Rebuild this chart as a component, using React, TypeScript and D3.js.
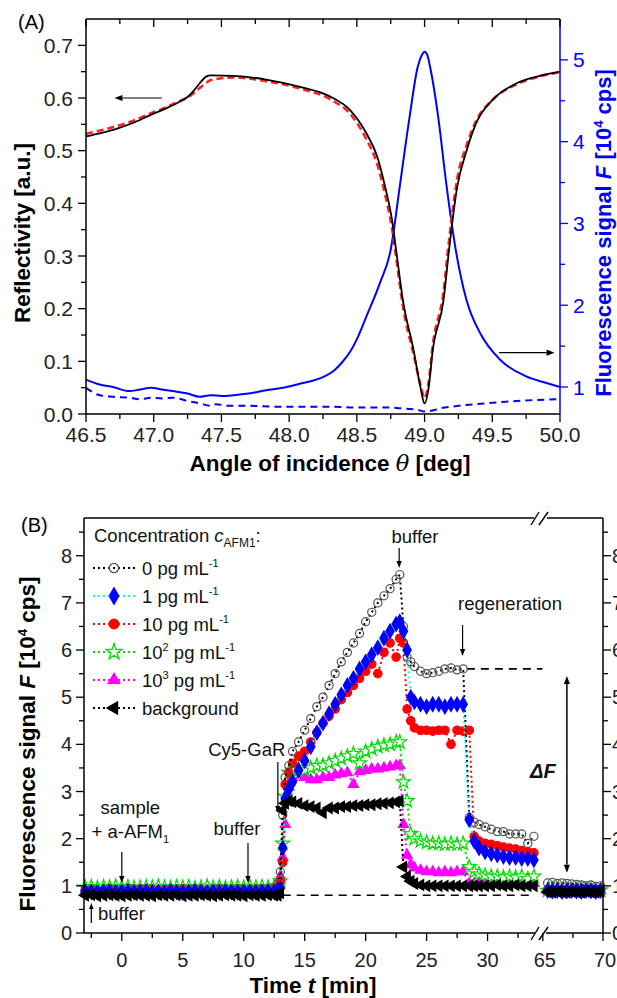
import React from "react";
import * as d3 from "d3";

const FONT = "'Liberation Sans', Arial, Helvetica, sans-serif";
const BLUE = "#0000ff";

// ---------------- Panel A data ----------------
const reflAngle = [46.5, 46.6, 46.73, 46.85, 46.97, 47.08, 47.19, 47.25, 47.29, 47.34, 47.39, 47.42, 47.59, 47.83, 48.08, 48.3, 48.45, 48.57, 48.65, 48.71, 48.76, 48.79, 48.84, 48.92, 48.97, 49.0, 49.03, 49.06, 49.14, 49.18, 49.24, 49.31, 49.38, 49.5, 49.68, 49.85, 50.0];
const reflMeasured = [0.527, 0.533, 0.542, 0.553, 0.567, 0.579, 0.593, 0.602, 0.612, 0.628, 0.641, 0.643, 0.642, 0.635, 0.621, 0.603, 0.577, 0.533, 0.489, 0.43, 0.368, 0.311, 0.216, 0.12, 0.05, 0.02, 0.05, 0.12, 0.216, 0.31, 0.43, 0.5, 0.552, 0.596, 0.628, 0.642, 0.65];
const reflFit = [0.532, 0.538, 0.547, 0.557, 0.57, 0.581, 0.594, 0.601, 0.608, 0.619, 0.629, 0.634, 0.639, 0.632, 0.618, 0.598, 0.57, 0.522, 0.475, 0.415, 0.352, 0.298, 0.205, 0.112, 0.055, 0.03, 0.06, 0.13, 0.232, 0.328, 0.445, 0.51, 0.556, 0.596, 0.626, 0.641, 0.649];

const fluoAngle = [46.5, 46.6, 46.7, 46.82, 46.9, 46.98, 47.06, 47.14, 47.25, 47.34, 47.42, 47.5, 47.59, 47.7, 47.83, 47.95, 48.08, 48.18, 48.26, 48.33, 48.39, 48.45, 48.51, 48.57, 48.67, 48.75, 48.82, 48.89, 48.95, 48.98, 49.0, 49.02, 49.04, 49.1, 49.16, 49.23, 49.31, 49.41, 49.56, 49.75, 49.9, 50.0];
const fluoPeak = [1.09, 1.03, 1.0, 0.95, 0.97, 0.99, 0.97, 0.95, 0.92, 0.88, 0.9, 0.89, 0.9, 0.92, 0.96, 0.99, 1.04, 1.08, 1.13, 1.2, 1.3, 1.43, 1.62, 1.86, 2.27, 2.68, 3.49, 4.31, 4.92, 5.06, 5.1, 5.06, 4.92, 4.31, 3.49, 2.68, 2.06, 1.66, 1.33, 1.13, 1.05, 1.0];

const fluoBgAngle = [46.5, 46.6, 46.7, 46.82, 46.9, 46.98, 47.06, 47.14, 47.25, 47.34, 47.42, 47.46, 47.55, 47.7, 47.9, 48.1, 48.3, 48.5, 48.7, 48.82, 48.95, 49.0, 49.05, 49.12, 49.2, 49.31, 49.45, 49.6, 49.8, 50.0];
const fluoBg = [0.99, 0.9, 0.88, 0.87, 0.85, 0.87, 0.86, 0.87, 0.83, 0.8, 0.77, 0.79, 0.77, 0.77, 0.76, 0.76, 0.76, 0.75, 0.75, 0.74, 0.72, 0.7, 0.71, 0.74, 0.76, 0.78, 0.8, 0.82, 0.84, 0.85];

const angleTicks = [46.5, 47.0, 47.5, 48.0, 48.5, 49.0, 49.5, 50.0];
const reflTicks = [0, 0.1, 0.2, 0.3, 0.4, 0.5, 0.6, 0.7];
const fluoTicksA = [1, 2, 3, 4, 5];

// ---------------- Panel B data ----------------
const timeMain = [-3, -2.5, -2, -1.5, -1, -0.5, 0, 0.5, 1, 1.5, 2, 2.5, 3, 3.5, 4, 4.5, 5, 5.5, 6, 6.5, 7, 7.5, 8, 8.5, 9, 9.5, 10, 10.5, 11, 11.5, 12, 12.5,
  12.8, 13.0, 13.2, 13.4, 13.7,
  14, 14.5, 15, 15.5, 16, 16.5, 17, 17.5, 18, 18.5, 19, 19.5, 20, 20.5, 21, 21.5, 22, 22.5,
  22.8, 23.1, 23.4, 23.7,
  24, 24.5, 25, 25.5, 26, 26.5, 27, 27.5, 28,
  28.5, 28.9,
  29.3, 29.8, 30.3, 30.8, 31.3, 31.8, 32.3, 32.8, 33.3, 33.8];
const timeLate = [65.4, 65.8, 66.2, 66.6, 67.0, 67.4, 67.8, 68.2, 68.6, 69.0, 69.4, 69.8];

const zeroPg = [0.92, 0.93, 0.91, 0.92, 0.94, 0.93, 0.92, 0.95, 0.93, 0.92, 0.94, 0.93, 0.92, 0.93, 0.94, 0.92, 0.93, 0.92, 0.94, 0.93, 0.92, 0.93, 0.95, 0.93, 0.92, 0.94, 0.93, 0.92, 0.93, 0.94, 0.93, 0.95,
  1.05, 1.3, 2.5, 3.3, 3.55,
  3.85, 4.05, 4.3, 4.55, 4.8, 5.0, 5.25, 5.5, 5.75, 5.95, 6.15, 6.35, 6.6, 6.8, 7.0, 7.15, 7.3, 7.5,
  7.6, 6.5, 5.85, 5.75,
  5.65, 5.55, 5.5, 5.52, 5.55, 5.6, 5.62, 5.58, 5.6,
  2.45, 2.35,
  2.3, 2.25, 2.2, 2.15, 2.15, 2.1, 2.1, 2.1, 1.9, 2.05];
const onePg = [0.88, 0.87, 0.86, 0.88, 0.87, 0.86, 0.87, 0.88, 0.86, 0.87, 0.88, 0.86, 0.87, 0.86, 0.88, 0.87, 0.86, 0.87, 0.88, 0.87, 0.86, 0.87, 0.86, 0.88, 0.87, 0.86, 0.87, 0.88, 0.86, 0.87, 0.88, 0.87,
  0.9, 0.95, 1.8, 2.85, 3.05,
  3.2, 3.45, 3.65, 3.95, 4.25, 4.45, 4.65, 4.85, 5.05, 5.25, 5.4, 5.6, 5.75, 5.9, 6.05, 6.25, 6.4, 6.55,
  6.6, 6.4, 6.0, 5.0,
  4.9, 4.85, 4.8, 4.85, 4.85, 4.8, 4.85, 4.85, 4.85,
  2.4, 1.95,
  1.8, 1.72, 1.68, 1.65, 1.62, 1.6, 1.6, 1.58, 1.58, 1.55];
const tenPg = [0.9, 0.92, 0.91, 0.9, 0.93, 0.91, 0.92, 0.9, 0.91, 0.93, 0.9, 0.92, 0.91, 0.9, 0.92, 0.91, 0.93, 0.9, 0.91, 0.92, 0.9, 0.91, 0.93, 0.9, 0.92, 0.91, 0.9, 0.92, 0.91, 0.93, 0.92, 0.94,
  0.95, 1.1, 1.5, 3.15, 3.4,
  3.6, 3.75, 3.85, 4.05, 4.25, 4.45, 4.6, 4.75, 4.95, 5.1, 5.25, 5.4, 5.55, 5.7, 5.5, 5.95, 6.15, 5.85,
  6.25, 6.15, 4.75, 4.5,
  4.35, 4.3, 4.3, 4.28, 4.3, 4.3, 4.0, 4.3, 4.28,
  4.3, 2.05,
  1.95, 1.9, 1.88, 1.85, 1.82, 1.8, 1.78, 1.75, 1.72, 1.7];
const hundredPg = [0.97, 0.98, 0.96, 0.98, 0.97, 0.99, 0.97, 0.98, 0.96, 0.97, 0.98, 0.97, 0.99, 0.97, 0.96, 0.98, 0.97, 0.98, 0.96, 0.97, 0.99, 0.97, 0.98, 0.96, 0.97, 0.98, 0.97, 0.99, 0.97, 0.98, 0.97, 0.99,
  1.0, 1.1, 1.9, 2.9, 3.4,
  3.45, 3.5, 3.45, 3.5, 3.55, 3.55, 3.6, 3.65, 3.7, 3.75, 3.8, 3.6, 3.85, 3.9, 3.95, 3.98, 4.0, 4.05,
  4.05, 3.2, 2.8, 2.1,
  2.0, 1.95, 1.92, 1.9, 1.9, 1.88, 1.9, 1.88, 1.9,
  1.4, 1.3,
  1.25, 1.22, 1.2, 1.2, 1.18, 1.2, 1.18, 1.2, 1.15, 1.2];
const thousandPg = [0.88, 0.89, 0.88, 0.9, 0.88, 0.89, 0.88, 0.89, 0.9, 0.88, 0.89, 0.88, 0.9, 0.89, 0.88, 0.89, 0.88, 0.9, 0.89, 0.88, 0.89, 0.9, 0.88, 0.89, 0.88, 0.9, 0.89, 0.88, 0.89, 0.9, 0.88, 0.92,
  0.95, 1.2, 1.6, 2.3, 3.1,
  3.3, 3.35, 3.3, 3.25, 3.25, 3.3, 3.3, 3.35, 3.38, 3.4, 3.15, 3.42, 3.45, 3.48, 3.48, 3.5, 3.52, 3.55,
  3.55, 2.3, 1.65, 1.45,
  1.38, 1.33, 1.3, 1.3, 1.28, 1.3, 1.28, 1.3, 1.3,
  1.05, 1.05,
  1.05, 1.05, 1.08, 1.05, 1.07, 1.05, 1.06, 1.05, 1.07, 1.05];
const background = [0.8, 0.81, 0.79, 0.8, 0.81, 0.8, 0.79, 0.8, 0.81, 0.8, 0.8, 0.79, 0.81, 0.8, 0.8, 0.81, 0.79, 0.8, 0.8, 0.81, 0.8, 0.79, 0.8, 0.81, 0.8, 0.8, 0.79, 0.81, 0.8, 0.8, 0.81, 0.8,
  0.8, 0.85, 2.6, 2.75, 2.8,
  2.78, 2.75, 2.7, 2.68, 2.65, 2.55, 2.65, 2.65, 2.68, 2.68, 2.7, 2.7, 2.72, 2.72, 2.74, 2.75, 2.76, 2.78,
  2.8, 1.4, 1.2, 1.1,
  1.05, 1.02, 1.0, 1.0, 1.0, 1.0, 1.0, 1.0, 1.0,
  1.0, 1.0,
  1.0, 1.0, 1.0, 1.02, 1.0, 1.0, 1.02, 1.0, 1.0, 1.0];

const zeroPgLate = [1.06, 1.07, 1.05, 1.06, 1.05, 1.04, 1.03, 1.02, 1.0, 1.02, 0.99, 1.0];
const onePgLate = [0.9, 0.89, 0.9, 0.88, 0.89, 0.9, 0.89, 0.88, 0.9, 0.89, 0.88, 0.9];
const tenPgLate = [0.92, 0.9, 0.91, 0.9, 0.92, 0.9, 0.91, 0.9, 0.92, 0.91, 0.9, 0.92];
const hundredPgLate = [0.9, 0.93, 0.91, 0.9, 0.92, 0.9, 0.91, 0.93, 0.9, 0.92, 0.9, 0.91];
const thousandPgLate = [0.9, 0.88, 0.89, 0.88, 0.9, 0.89, 0.88, 0.9, 0.88, 0.89, 0.88, 0.9];
const backgroundLate = [0.87, 0.86, 0.88, 0.87, 0.86, 0.88, 0.87, 0.86, 0.88, 0.87, 0.86, 0.88];

const timeTicksMain = [0, 5, 10, 15, 20, 25, 30];
const timeTicksLate = [65, 70];
const signalTicks = [0, 1, 2, 3, 4, 5, 6, 7, 8];

const legendBase = ["0", "1", "10", "10", "10", null];
const legendExp = [null, null, null, "2", "3", null];

const seriesB = [
  { values: zeroPg, late: zeroPgLate, line: "#000", stroke: "#555", fill: "none", sym: d3.symbolCircle, size: 52, rot: 0 },
  { values: onePg, late: onePgLate, line: "#00ffff", stroke: BLUE, fill: BLUE, sym: d3.symbolDiamond, size: 60, rot: 0 },
  { values: tenPg, late: tenPgLate, line: "#ff0000", stroke: "#ff0000", fill: "#ff0000", sym: d3.symbolCircle, size: 56, rot: 0 },
  { values: hundredPg, late: hundredPgLate, line: "#00e000", stroke: "#00dd00", fill: "#ffffff", sym: d3.symbolStar, size: 60, rot: 0 },
  { values: thousandPg, late: thousandPgLate, line: "#ff00ff", stroke: "#ff00ff", fill: "#ff00ff", sym: d3.symbolTriangle, size: 46, rot: 0 },
  { values: background, late: backgroundLate, line: "#000", stroke: "#000", fill: "#000", sym: d3.symbolTriangle, size: 50, rot: -90 },
];
const drawOrder = [4, 3, 2, 0, 1, 5];

// ---------------- helpers ----------------
function Arrow({ x1, y1, x2, y2, color = "#000", head = 7, w = 1.3 }: any) {
  const a = Math.atan2(y2 - y1, x2 - x1);
  const hw = head * 0.38;
  const bx = x2 - head * Math.cos(a);
  const by = y2 - head * Math.sin(a);
  const p1 = [bx + hw * Math.sin(a), by - hw * Math.cos(a)];
  const p2 = [bx - hw * Math.sin(a), by + hw * Math.cos(a)];
  return (
    <g>
      <line x1={x1} y1={y1} x2={bx} y2={by} stroke={color} strokeWidth={w} />
      <polygon points={`${x2},${y2} ${p1[0]},${p1[1]} ${p2[0]},${p2[1]}`} fill={color} />
    </g>
  );
}

function mids(arr: number[]) {
  return d3.pairs(arr).map(([a, b]) => (a + b) / 2);
}

export default function App() {
  // Panel A scales
  const xA = d3.scaleLinear().domain([46.5, 50]).range([86, 560]);
  const yA = d3.scaleLinear().domain([0, 0.75]).range([414, 19]);
  const yA2 = d3.scaleLinear().domain([0.67, 5.5]).range([414, 19]);

  const lineRefl = (vals: number[]) =>
    d3.line<number>().x((_, i) => xA(reflAngle[i])).y((v) => yA(v)).curve(d3.curveMonotoneX)(vals) || "";
  const lineFluo = d3.line<number>().x((_, i) => xA(fluoAngle[i])).y((v) => yA2(v)).curve(d3.curveMonotoneX)(fluoPeak) || "";
  const lineFluoBg = d3.line<number>().x((_, i) => xA(fluoBgAngle[i])).y((v) => yA2(v)).curve(d3.curveMonotoneX)(fluoBg) || "";

  // Panel B scales
  const xB1 = d3.scaleLinear().domain([-3.1, 34.3]).range([84, 540]);
  const xB2 = d3.scaleLinear().domain([64.6, 70]).range([538, 603]);
  const yB = d3.scaleLinear().domain([0, 8.8]).range([933, 518]);

  const tickFs = 21;
  const tickFsB = 20;
  const titleFs = 22.5;

  const angleMinor = mids(angleTicks);
  const reflMinor = mids(reflTicks);
  const fluoMinorA = mids(fluoTicksA);
  const signalMinor = mids(signalTicks).concat([8.5]);
  const timeMinorMain = [-2.5].concat(mids(timeTicksMain)).concat([32.5]);
  const timeMinorLate = mids(timeTicksLate);

  const legendY0 = 568;
  const legendDy = 28;

  return (
    <svg width={617} height={998} style={{ position: "absolute", left: 0, top: 0, background: "#fff" }} fontFamily={FONT}>
      {/* ================= PANEL A ================= */}
      <text x={18} y={29} fontSize={20}>(A)</text>

      {/* curves */}
      <path d={lineFluoBg} fill="none" stroke={BLUE} strokeWidth={2} strokeDasharray="7 5" />
      <path d={lineFluo} fill="none" stroke={BLUE} strokeWidth={2} />
      <path d={lineRefl(reflFit)} fill="none" stroke="#ff2020" strokeWidth={2.6} strokeDasharray="7 4" />
      <path d={lineRefl(reflMeasured)} fill="none" stroke="#000" strokeWidth={1.8} />

      {/* axes frame */}
      <line x1={86} y1={19} x2={86} y2={414} stroke="#000" strokeWidth={1.5} />
      <line x1={86} y1={414} x2={560} y2={414} stroke="#000" strokeWidth={1.5} />
      <line x1={86} y1={19} x2={560} y2={19} stroke="#000" strokeWidth={1.5} />
      <line x1={560} y1={19} x2={560} y2={414} stroke={BLUE} strokeWidth={1.5} />

      {angleTicks.map((t) => (
        <g key={"at" + t}>
          <line x1={xA(t)} x2={xA(t)} y1={414} y2={422} stroke="#000" strokeWidth={1.3} />
          <line x1={xA(t)} x2={xA(t)} y1={19} y2={27} stroke="#000" strokeWidth={1.3} />
          <text x={xA(t)} y={442} fontSize={tickFs} textAnchor="middle" fill="#222">{t.toFixed(1)}</text>
        </g>
      ))}
      {angleMinor.map((t) => (
        <g key={"am" + t}>
          <line x1={xA(t)} x2={xA(t)} y1={414} y2={419} stroke="#000" strokeWidth={1.3} />
          <line x1={xA(t)} x2={xA(t)} y1={19} y2={24} stroke="#000" strokeWidth={1.3} />
        </g>
      ))}
      {reflTicks.map((t) => (
        <g key={"rt" + t}>
          <line x1={78} x2={86} y1={yA(t)} y2={yA(t)} stroke="#000" strokeWidth={1.3} />
          <text x={73} y={yA(t) + 7.5} fontSize={tickFs} textAnchor="end" fill="#222">{t.toFixed(1)}</text>
        </g>
      ))}
      {reflMinor.map((t) => (
        <line key={"rm" + t} x1={81} x2={86} y1={yA(t)} y2={yA(t)} stroke="#000" strokeWidth={1.3} />
      ))}
      {fluoTicksA.map((t) => (
        <g key={"ft" + t}>
          <line x1={560} x2={568} y1={yA2(t)} y2={yA2(t)} stroke={BLUE} strokeWidth={1.3} />
          <text x={573} y={yA2(t) + 7.5} fontSize={tickFs} fill={BLUE}>{t}</text>
        </g>
      ))}
      {fluoMinorA.map((t) => (
        <line key={"fm" + t} x1={560} x2={565} y1={yA2(t)} y2={yA2(t)} stroke={BLUE} strokeWidth={1.3} />
      ))}

      {/* arrows A */}
      <Arrow x1={xA(47.06)} y1={yA(0.6)} x2={xA(46.71)} y2={yA(0.6)} head={8} w={1.1} />
      <Arrow x1={xA(49.55)} y1={yA2(1.42)} x2={xA(49.96)} y2={yA2(1.42)} head={8} w={1.1} />

      {/* titles A */}
      <text x={330} y={471} fontSize={titleFs} fontWeight="bold" textAnchor="middle">
        Angle of incidence <tspan fontStyle="italic" fontWeight="normal" fontFamily="'DejaVu Serif', serif">θ</tspan> [deg]
      </text>
      <text transform="translate(30,233) rotate(-90)" fontSize={titleFs} fontWeight="bold" textAnchor="middle">
        Reflectivity [a.u.]
      </text>
      <text transform="translate(611,233) rotate(-90)" fontSize={22} fontWeight="bold" textAnchor="middle" fill={BLUE}>
        Fluorescence signal <tspan fontStyle="italic">F</tspan> [10<tspan dy={-8} fontSize={13}>4</tspan><tspan dy={8}> cps]</tspan>
      </text>

      {/* ================= PANEL B ================= */}
      <text x={21} y={532} fontSize={20}>(B)</text>

      <line x1={xB1(13.2)} x2={xB1(33.8)} y1={yB(0.8)} y2={yB(0.8)} stroke="#000" strokeWidth={1.6} strokeDasharray="8 6" />
      <line x1={xB1(28.3)} x2={xB1(34.5)} y1={yB(5.6)} y2={yB(5.6)} stroke="#000" strokeWidth={1.6} strokeDasharray="8 6" />

      {drawOrder.map((si) => {
        const s = seriesB[si];
        const lMain = d3.line<number>().x((_, i) => xB1(timeMain[i])).y((v) => yB(v))(s.values) || "";
        const lLate = d3.line<number>().x((_, i) => xB2(timeLate[i])).y((v) => yB(v))(s.late) || "";
        const symPath = d3.symbol().type(s.sym).size(s.size)() || "";
        return (
          <g key={"s" + si}>
            <path d={lMain} fill="none" stroke={s.line} strokeWidth={2} strokeDasharray="2 3" />
            <path d={lLate} fill="none" stroke={s.line} strokeWidth={2} strokeDasharray="2 3" />
            {s.values.map((v, i) => (
              <path key={"m" + i} d={symPath} transform={`translate(${xB1(timeMain[i])},${yB(v)}) rotate(${s.rot})`}
                fill={s.fill} stroke={s.stroke} strokeWidth={1.2} />
            ))}
            {s.late.map((v, i) => (
              <path key={"l" + i} d={symPath} transform={`translate(${xB2(timeLate[i])},${yB(v)}) rotate(${s.rot})`}
                fill={s.fill} stroke={s.stroke} strokeWidth={1.2} />
            ))}
          </g>
        );
      })}

      {/* axes frame B */}
      <line x1={84} y1={518} x2={84} y2={933} stroke="#000" strokeWidth={1.5} />
      <line x1={603} y1={518} x2={603} y2={933} stroke="#000" strokeWidth={1.5} />
      <line x1={84} y1={518} x2={534} y2={518} stroke="#000" strokeWidth={1.5} />
      <line x1={547} y1={518} x2={603} y2={518} stroke="#000" strokeWidth={1.5} />
      <line x1={84} y1={933} x2={535} y2={933} stroke="#000" strokeWidth={1.5} />
      <line x1={546} y1={933} x2={603} y2={933} stroke="#000" strokeWidth={1.5} />
      {[518, 933].map((yy) => (
        <g key={"br" + yy}>
          <line x1={531} y1={yy + 7} x2={539} y2={yy - 6} stroke="#000" strokeWidth={1.4} />
          <line x1={539} y1={yy + 7} x2={548} y2={yy - 6} stroke="#000" strokeWidth={1.4} />
        </g>
      ))}

      {signalTicks.map((t) => (
        <g key={"st" + t}>
          <line x1={76} x2={84} y1={yB(t)} y2={yB(t)} stroke="#000" strokeWidth={1.3} />
          <line x1={603} x2={611} y1={yB(t)} y2={yB(t)} stroke="#000" strokeWidth={1.3} />
          <text x={72} y={yB(t) + 7} fontSize={tickFsB} textAnchor="end" fill="#222">{t}</text>
          <text x={612} y={yB(t) + 7} fontSize={tickFsB} fill="#222">{t}</text>
        </g>
      ))}
      {signalMinor.map((t) => (
        <g key={"sm" + t}>
          <line x1={79} x2={84} y1={yB(t)} y2={yB(t)} stroke="#000" strokeWidth={1.3} />
          <line x1={603} x2={608} y1={yB(t)} y2={yB(t)} stroke="#000" strokeWidth={1.3} />
        </g>
      ))}
      {timeTicksMain.map((t) => (
        <g key={"tt" + t}>
          <line x1={xB1(t)} x2={xB1(t)} y1={933} y2={941} stroke="#000" strokeWidth={1.3} />
          <text x={xB1(t)} y={967} fontSize={tickFsB} textAnchor="middle" fill="#222">{t}</text>
        </g>
      ))}
      {timeTicksLate.map((t) => (
        <g key={"tl" + t}>
          <line x1={xB2(t)} x2={xB2(t)} y1={933} y2={941} stroke="#000" strokeWidth={1.3} />
          <text x={xB2(t) + 2} y={967} fontSize={tickFsB} textAnchor="middle" fill="#222">{t}</text>
        </g>
      ))}
      {timeMinorMain.map((t) => (
        <line key={"tm" + t} x1={xB1(t)} x2={xB1(t)} y1={933} y2={938} stroke="#000" strokeWidth={1.3} />
      ))}
      {timeMinorLate.map((t) => (
        <line key={"tml" + t} x1={xB2(t)} x2={xB2(t)} y1={933} y2={938} stroke="#000" strokeWidth={1.3} />
      ))}

      {/* legend */}
      <text x={94} y={542} fontSize={18.5} fill="#111">
        Concentration <tspan fontStyle="italic">c</tspan><tspan dy={5} fontSize={12}>AFM1</tspan><tspan dy={-5}>:</tspan>
      </text>
      {seriesB.map((s, si) => {
        const y = legendY0 + si * legendDy;
        const symPath = d3.symbol().type(s.sym).size(s.size * 1.3)() || "";
        return (
          <g key={"lg" + si}>
            <line x1={93} x2={136} y1={y} y2={y} stroke={s.line} strokeWidth={2} strokeDasharray="2 3" />
            <path d={symPath} transform={`translate(114,${y}) rotate(${s.rot})`} fill={s.fill} stroke={s.stroke} strokeWidth={1.3} />
            <text x={142} y={y + 7} fontSize={18.5} fill="#111">
              {legendBase[si] === null ? "background" : (
                <>
                  {legendBase[si]}
                  {legendExp[si] ? <tspan dy={-8} fontSize={11}>{legendExp[si]}</tspan> : null}
                  <tspan dy={legendExp[si] ? 8 : 0}> pg mL</tspan>
                  <tspan dy={-8} fontSize={11}>-1</tspan>
                </>
              )}
            </text>
          </g>
        );
      })}

      {/* annotations B */}
      <text x={xB1(24.05)} y={543} fontSize={18.5} textAnchor="middle" fill="#111">buffer</text>
      <Arrow x1={xB1(22.75)} y1={548} x2={xB1(22.75)} y2={568} head={7} w={1.2} />
      <text x={510} y={610} fontSize={18.5} textAnchor="middle" fill="#111">regeneration</text>
      <Arrow x1={xB1(27.95)} y1={625} x2={xB1(27.95)} y2={656} head={7} w={1.2} />
      <text x={xB1(10.25)} y={756} fontSize={18.5} textAnchor="middle" fill="#111">Cy5-GaR</text>
      <Arrow x1={xB1(12.8)} y1={762} x2={xB1(12.8)} y2={813} head={7} w={1.2} />
      <text x={xB1(0.7)} y={814} fontSize={18.5} textAnchor="middle" fill="#111">sample</text>
      <text x={xB1(0.7)} y={838} fontSize={18.5} textAnchor="middle" fill="#111">
        + a-AFM<tspan dy={5} fontSize={11}>1</tspan>
      </text>
      <Arrow x1={xB1(0)} y1={852} x2={xB1(0)} y2={883} head={7} w={1.2} />
      <text x={xB1(9.45)} y={835} fontSize={18.5} textAnchor="middle" fill="#111">buffer</text>
      <Arrow x1={xB1(10.35)} y1={843} x2={xB1(10.35)} y2={883} head={7} w={1.2} />
      <text x={98} y={920} fontSize={18.5} fill="#111">buffer</text>
      <Arrow x1={xB1(-2.5)} y1={923} x2={xB1(-2.5)} y2={903} head={6} w={1.2} />

      {/* Delta F */}
      <Arrow x1={xB2(67.0)} y1={yB(3.4)} x2={xB2(67.0)} y2={yB(5.45)} head={8} w={1.5} />
      <Arrow x1={xB2(67.0)} y1={yB(3.4)} x2={xB2(67.0)} y2={yB(1.28)} head={8} w={1.5} />
      <text x={530} y={778} fontSize={20} fontWeight="bold" fontStyle="italic" fill="#111">ΔF</text>

      {/* titles B */}
      <text x={313} y={993} fontSize={titleFs} fontWeight="bold" textAnchor="middle">
        Time <tspan fontStyle="italic">t</tspan> [min]
      </text>
      <text transform="translate(35,744) rotate(-90)" fontSize={titleFs} fontWeight="bold" textAnchor="middle">
        Fluorescence signal <tspan fontStyle="italic">F</tspan> [10<tspan dy={-8} fontSize={13}>4</tspan><tspan dy={8}> cps]</tspan>
      </text>
    </svg>
  );
}
